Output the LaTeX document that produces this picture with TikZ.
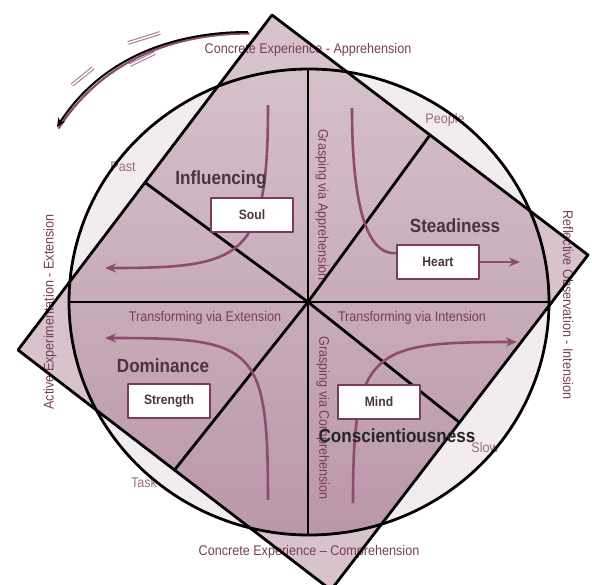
\documentclass[tikz,border=0pt]{standalone}
\usepackage{fontspec}
\setmainfont{Liberation Sans}
\newfontfamily\etroite[FakeStretch=0.9]{Liberation Sans}
\usetikzlibrary{arrows.meta}
\definecolor{bordeaux}{HTML}{7B3B5C}
\definecolor{fleche}{HTML}{8E4B70}
\definecolor{pale}{HTML}{9A6A82}
\definecolor{mauveclair}{HTML}{D8C2CC}
\definecolor{rosepale}{HTML}{F3ECEF}
\definecolor{mauvehaut}{HTML}{D9C5CE}
\definecolor{mauvebas}{HTML}{B792A5}
\definecolor{sombre}{HTML}{4A3441}

\begin{document}
\begin{tikzpicture}[x=1pt,y=-1pt,line join=round,
  etiquette/.style={text=bordeaux,font=\etroite\fontsize{14pt}{14pt}\selectfont},
  petit/.style={text=pale,font=\etroite\fontsize{14pt}{14pt}\selectfont},
  titre/.style={text=sombre,font=\etroite\bfseries\fontsize{19pt}{19pt}\selectfont},
  boite/.style={draw=bordeaux,fill=white,line width=1.3pt,minimum width=82pt,
    minimum height=34pt,text=sombre,font=\etroite\bfseries\fontsize{13.5pt}{13.5pt}\selectfont},
  trait/.style={black,line width=2.8pt},
  fl/.style={fleche,line width=2.6pt,-{Stealth[length=11pt,width=9pt]}},
  vitesse/.style={color=fleche!75,line width=1.1pt,double=white,double distance=1.6pt}]
\useasboundingbox (0,0) rectangle (592,584);
\def\cercle{(309,302) ellipse [x radius=240,y radius=233]}
\def\carre{(272,15) -- (588,255) -- (331,590) -- (18,350) -- cycle}
%
\fill[mauveclair] \carre;
\fill[rosepale] \cercle;
\begin{scope}
  \clip \cercle;
  \shade[top color=mauvehaut,bottom color=mauvebas] \carre;
\end{scope}
%
% Etiquettes :
\node[etiquette] (haut) at (308,50) {Concrete Experience - Apprehension};
\node[etiquette] (bas) at (309,552) {Concrete Experience – Comprehension};
\node[etiquette,rotate=90] (gauche) at (50,312) {Active Experimentation - Extension};
\node[etiquette,rotate=-90] (droite) at (568,305) {Reflective Observation - Intension};
\node[etiquette,rotate=-90] (appr) at (322,205) {Grasping via Apprehension};
\node[etiquette,rotate=-90] (compr) at (323,418) {Grasping via Comprehension};
\node[etiquette] (ext) at (205,318) {Transforming via Extension};
\node[etiquette] (int) at (412,318) {Transforming via Intension};
\node[petit] (past) at (123,167) {Past};
\node[petit] (people) at (445,120) {People};
\node[petit] (task) at (144,482) {Task};
\node[petit] (slow) at (485,447) {Slow};
%
\coordinate (centre) at (308,302);
\coordinate (mUL) at (145,182.5);
\coordinate (mUR) at (430,135);
\coordinate (mLL) at (174.5,470);
\coordinate (mLR) at (459.5,422.5);
\draw[trait] \carre;
\draw[trait] \cercle;
\draw[trait] (69,302) -- (549,302);
\draw[trait] (308,69.5) -- (308,535);
\foreach \m in {mUL,mUR,mLL,mLR}
  \draw[trait] (centre) -- (\m);
%
% Fleches :
\draw[fleche,line width=2.2pt] (249.5,33.5) .. controls (171.5,33.5) and (101.5,61.5) .. (58.5,128.5);
\draw[black,line width=2pt,-{Stealth[length=9pt,width=8pt]}] (248,32) .. controls (170,32) and (100,60) .. (57,127);
\draw[vitesse] (128,43) -- (160,33);
\draw[vitesse] (130,65) -- (155,53);
\draw[vitesse] (72,85) -- (93,68);
%
\coordinate (a1) at (268,105);
\coordinate (a2) at (105,268);
\coordinate (b1) at (352,108);
\coordinate (b2) at (520,262);
\coordinate (c1) at (268,500);
\coordinate (c2) at (105,338);
\coordinate (d1) at (353,503);
\coordinate (d2) at (517,342);
\draw[fl] (a1) .. controls (268,258) and (245,268) .. (a2);
\draw[fl] (c1) .. controls (268,345) and (255,338) .. (c2);
\draw[fl] (d1) .. controls (353,350) and (370,342) .. (d2);
%
\node[boite] (soul) at (252,215) {Soul};
\node[boite] (heart) at (438,262) {Heart};
\node[boite] (strength) at (169,401) {Strength};
\node[boite] (mind) at (379,402) {Mind};
\draw[fleche,line width=2.6pt] (b1) .. controls (352,230) and (375,255) .. (heart.168);
\draw[fl] (heart.east) -- (b2);
%
\node[titre] (influ) at (221,180) {Influencing};
\node[titre] (stead) at (455,226) {Steadiness};
\node[titre] (domin) at (163,366) {Dominance};
\node[titre,text=black!85] (consc) at (397,436) {Conscientiousness};
\end{tikzpicture}
\end{document}
